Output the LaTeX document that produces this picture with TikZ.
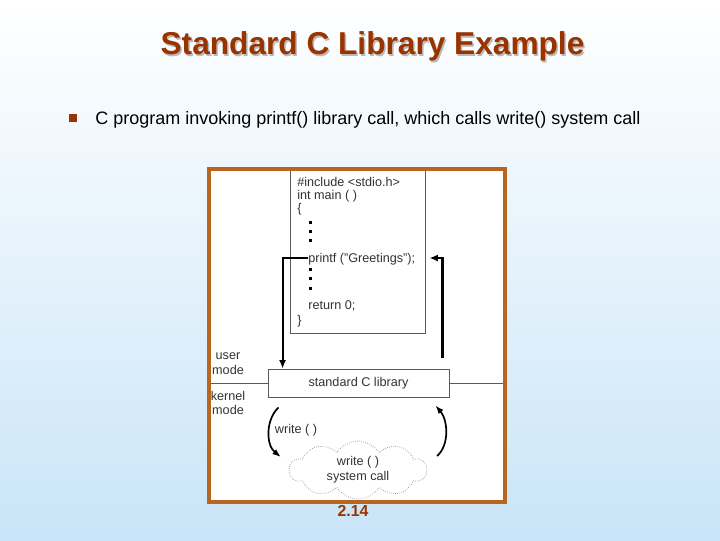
\documentclass[tikz,border=0pt]{standalone}
\usepackage{fontspec}
\setmainfont{Liberation Sans}
\usetikzlibrary{arrows.meta, positioning, calc, shapes.symbols}
\definecolor{titlered}{HTML}{993300}
\definecolor{framebrown}{HTML}{B8661F}
\definecolor{skyblue}{HTML}{C9E5F8}
\definecolor{boxline}{HTML}{5A5A5A}
\definecolor{figtext}{HTML}{333333}

\begin{document}
\begin{tikzpicture}[x=0.025cm, y=-0.025cm,
    codeline/.style={anchor=west, inner sep=0pt, text=figtext, font=\fontsize{9}{10}\selectfont,
      text height=1.5ex, text depth=.3ex},
    modelabel/.style={align=center, inner sep=0pt, text=figtext, font=\fontsize{9}{10.5}\selectfont},
    flow/.style={line width=1.5pt, -{Latex[length=6pt,width=5pt]}},
    curvecall/.style={line width=1.2pt, -{Latex[length=6pt,width=4.5pt]}}]
    % slide background
    \shade[top color=white, bottom color=skyblue] (0,0) rectangle (720,540);
    \useasboundingbox (0,0) rectangle (720,540);
    % title and bullet
    \node[font=\bfseries\fontsize{22.5}{26}\selectfont, text=gray!55] at (374,48) {Standard C Library Example};
    \node[font=\bfseries\fontsize{22.5}{26}\selectfont, text=titlered] (title) at (372.5,46.5) {Standard C Library Example};
    \fill[titlered] (69,114) rectangle ++(8,8);
    \node[anchor=west, inner sep=0pt, font=\fontsize{12.8}{15}\selectfont] (bullet) at (95,119.5)
      {C program invoking printf() library call, which calls write() system call};
    % figure panel
    \fill[white] (209,169) rectangle (505,502);
    \node[draw=boxline, line width=0.6pt, minimum width=3.375cm, minimum height=4.075cm,
      inner sep=0pt] (program) at (358.2,251.5) {};
    \node[codeline] (inc) at (297,181.7) {\#include <stdio.h>};
    \node[codeline] (mainfn) at (297,195) {int main ( )};
    \node[codeline] (open) at (297,208) {\{};
    \node[codeline] (printf) at (308,258) {printf ("Greetings");};
    \node[codeline] (ret) at (308,305) {return 0;};
    \node[codeline] (close) at (297,320) {\}};
    \foreach \y in {221,230,239,268,277,287}{
      \fill (308.5,\y) rectangle ++(3,3);
    }
    \node[draw=boxline, line width=0.6pt, fill=white, minimum width=4.525cm, minimum height=0.7cm,
      inner sep=0pt, text=figtext, font=\fontsize{9}{10}\selectfont] (stdlib) at (358.5,383) {standard C library};
    \coordinate (divleft) at (211,383);
    \coordinate (divright) at (503,383);
    \draw[boxline, line width=0.6pt] (divleft) -- (stdlib.west);
    \draw[boxline, line width=0.6pt] (stdlib.east) -- (divright);
    \node[modelabel] (user) at (228,364) {user\\mode};
    \node[modelabel] (kernel) at (228,403) {kernel\\mode};
    \node[cloud, cloud puffs=10, cloud puff arc=115, aspect=2.4, draw=gray!85, densely dotted,
      line width=0.5pt, minimum width=3.425cm, minimum height=1.45cm, inner sep=0pt, align=center,
      text=figtext, font=\fontsize{9}{10.5}\selectfont] (syscall) at (358,470) {write ( )\\system call};
    \node[inner sep=0pt, text=figtext, font=\fontsize{9}{10}\selectfont] (writecall) at (296,430) {write ( )};
    % calls
    \draw[flow] (printf.west) -| ($(stdlib.north west)+(15,0)$);
    \draw[flow] ($(stdlib.north east)+(-7,-11)$) |- ($(printf.east)+(14,0)$);
    \draw[curvecall] ($(stdlib.south west)+(11,10)$) .. controls +(-13,12) and +(-15,-12) .. ($(syscall.west)+(-8,-13)$);
    \draw[curvecall] ($(syscall.east)+(10,-14)$) .. controls +(13,-12) and +(12,14) .. ($(stdlib.south east)+(-14,8)$);
    % panel border
    \draw[framebrown, line width=2.8pt] (209,169) rectangle (505,502);
    \node[font=\bfseries\fontsize{11.3}{13}\selectfont, text=titlered] (slideno) at (353,511) {2.14};
  \end{tikzpicture}
\end{document}
